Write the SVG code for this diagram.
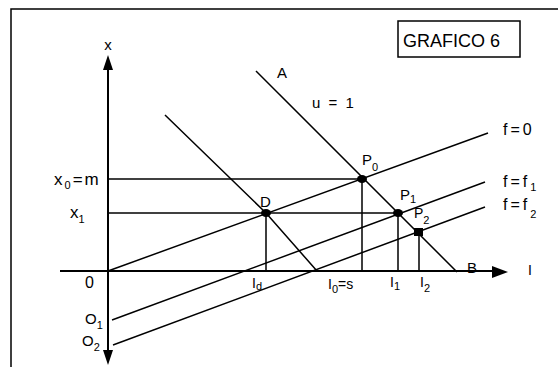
<svg xmlns="http://www.w3.org/2000/svg" width="558" height="367" viewBox="0 0 558 367">
<style>
text{font-family:"Liberation Sans",Arial,sans-serif;fill:#000;font-size:15px}
.ax{stroke:#000;stroke-width:2;fill:none}
.ln{stroke:#000;stroke-width:1.5;fill:none}
.hl{stroke:#000;stroke-width:1.3;fill:none}
.sub{font-size:11px}
.dot{fill:#000}
</style>
<rect width="558" height="367" fill="#fff"/>
<path class="ln" d="M11,367 L11,9 L558,9"/>
<g id="title">
<rect x="398" y="21" width="122" height="36" fill="none" stroke="#000" stroke-width="1.5"/>
<text x="403" y="47" font-size="18" style="font-size:18px">GRAFICO 6</text>
</g>
<g id="axes">
<line class="ax" x1="108" y1="68" x2="108" y2="352"/>
<polygon points="108,55 103,70 113,70"/>
<polygon points="108,365 103,350 113,350"/>
<line class="ax" x1="60" y1="271" x2="494" y2="271"/>
<polygon points="508,272 492,266 492,278"/>
</g>
<g id="connectors">
<path class="ln" d="M108,271 L488,133"/>
<path class="ln" d="M112,320 L485,182"/>
<path class="ln" d="M113,345 L485,207"/>
<path class="ln" d="M256,71 L457,272"/>
<path class="ln" d="M165,115 L266,213 L317,271"/>
<path class="hl" d="M108,179 L362,179"/>
<path class="hl" d="M108,213 L398,213"/>
<path class="ln" d="M266,213 V271 M362,179 V271 M398,213 V271 M419,232 V271"/>
</g>
<g id="D"><ellipse class="dot" cx="266" cy="213" rx="5" ry="4"/><text x="260" y="207">D</text></g>
<g id="P0"><ellipse class="dot" cx="362" cy="179" rx="5" ry="4"/><text x="362" y="165">P<tspan class="sub" dy="6">0</tspan></text></g>
<g id="P1"><ellipse class="dot" cx="398" cy="213" rx="5" ry="4"/><text x="400" y="200">P<tspan class="sub" dy="3">1</tspan></text></g>
<g id="P2"><rect class="dot" x="414" y="228" width="9" height="8"/><text x="414" y="218" style="font-size:14px">P<tspan class="sub" dy="6">2</tspan></text></g>
<g id="labels">
<text x="108" y="50" text-anchor="middle">x</text>
<text x="54" y="185" style="font-size:17px;letter-spacing:2px">x<tspan class="sub" dy="4">0</tspan><tspan dy="-4">=m</tspan></text>
<text x="70" y="218" style="font-size:17px">x<tspan class="sub" dy="5">1</tspan></text>
<text x="85" y="288" style="font-size:16px">0</text>
<text x="85" y="324">O<tspan class="sub" dy="5">1</tspan></text>
<text x="82" y="346">O<tspan class="sub" dy="5">2</tspan></text>
<text x="503" y="135" style="font-size:16px;letter-spacing:3px">f=0</text>
<text x="503" y="187" style="font-size:16px;letter-spacing:3px">f=f<tspan class="sub" dy="4">1</tspan></text>
<text x="503" y="210" style="font-size:16px;letter-spacing:3px">f=f<tspan class="sub" dy="8">2</tspan></text>
<text x="277" y="78">A</text>
<text x="312" y="108" style="word-spacing:4px">u = 1</text>
<text x="467" y="273">B</text>
<text x="528" y="275" style="font-size:14px">I</text>
<text x="252" y="288" style="font-size:14px">I<tspan class="sub" dy="2">d</tspan></text>
<text x="328" y="289" style="font-size:14px">I<tspan class="sub" dy="4">0</tspan><tspan dy="-4">=s</tspan></text>
<text x="390" y="287" style="font-size:14px">I<tspan class="sub" dy="3">1</tspan></text>
<text x="420" y="287" style="font-size:14px">I<tspan class="sub" dy="5">2</tspan></text>
</g>
</svg>
